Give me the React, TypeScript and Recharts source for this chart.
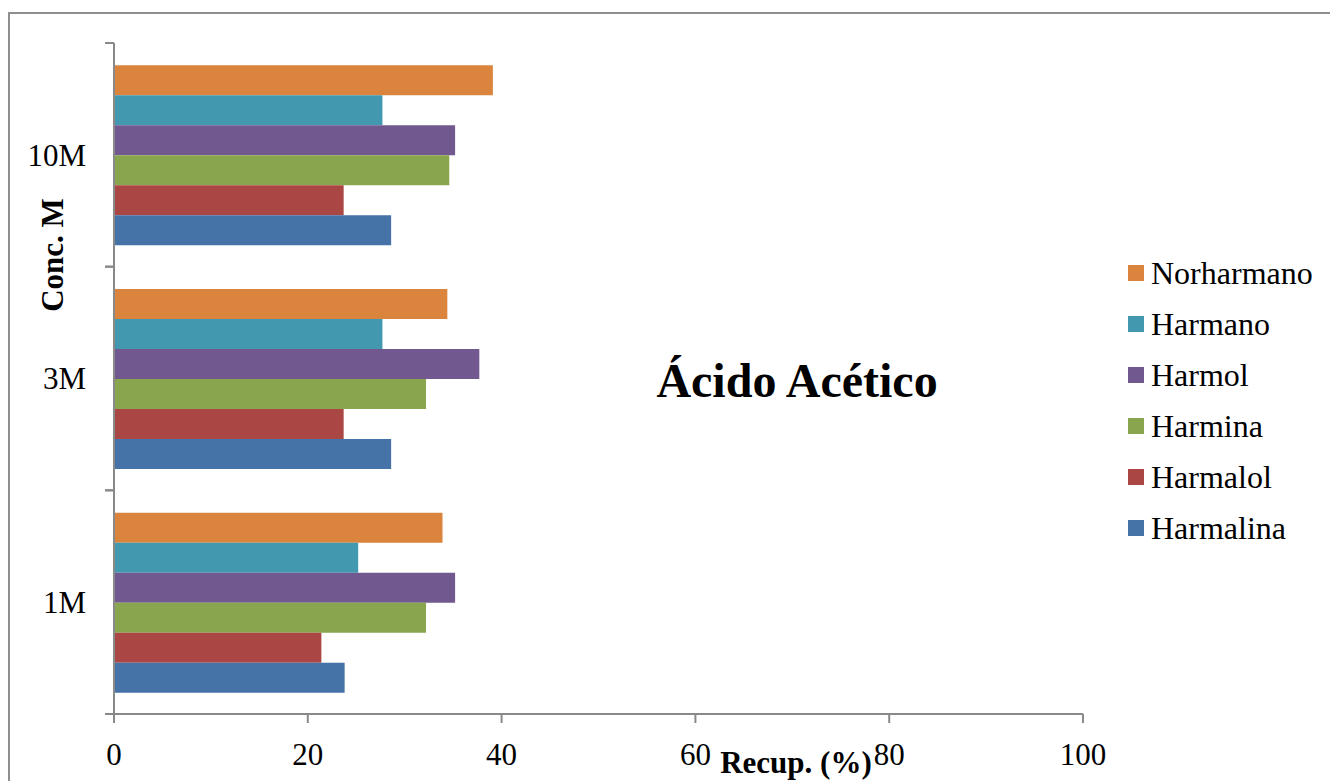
import React from 'react';
import { BarChart, Bar, XAxis, YAxis, Legend } from 'recharts';

const categories = ['10M', '3M', '1M'];
const seriesNames = ['Norharmano', 'Harmano', 'Harmol', 'Harmina', 'Harmalol', 'Harmalina'];
const norharmano = [39.1, 34.4, 33.9];
const harmano = [27.7, 27.7, 25.2];
const harmol = [35.2, 37.7, 35.2];
const harmina = [34.6, 32.2, 32.2];
const harmalol = [23.7, 23.7, 21.4];
const harmalina = [28.6, 28.6, 23.8];
const xTicks = [0, 20, 40, 60, 80, 100];
const colors = ['#DB843D', '#4198AF', '#71588F', '#89A54E', '#AA4643', '#4572A7'];

const seriesValues = [norharmano, harmano, harmol, harmina, harmalol, harmalina];

const data = categories.map((c, i) => {
  const row: Record<string, string | number> = { conc: c };
  seriesNames.forEach((n, k) => {
    row[n] = seriesValues[k][i];
  });
  return row;
});

const FONT = "'Liberation Serif', 'Times New Roman', serif";
const AXIS = '#898989';

const YTick = (props: any) => {
  const { x, y, payload } = props;
  const half = payload && payload.offset ? payload.offset : 0;
  const ax = x + 19;
  return (
    <g>
      <line x1={ax} x2={ax + 9} y1={y - half} y2={y - half} stroke={AXIS} strokeWidth={2} />
      <line x1={ax} x2={ax + 9} y1={y + half} y2={y + half} stroke={AXIS} strokeWidth={2} />
      <text x={x} y={y} dy="0.35em" textAnchor="end" fontSize={31} fill="#000" fontFamily={FONT}>
        {payload.value}
      </text>
    </g>
  );
};

const LegendContent = () => (
  <div style={{ width: 200, fontFamily: FONT, fontSize: 32, color: '#000' }}>
    {seriesNames.map((n, k) => (
      <div key={n} style={{ height: 51, display: 'flex', alignItems: 'center' }}>
        <span style={{ display: 'inline-block', width: 16, height: 16, background: colors[k], marginRight: 7 }} />
        <span style={{ lineHeight: '32px' }}>{n}</span>
      </div>
    ))}
  </div>
);

export default function App() {
  return (
    <div style={{ position: 'absolute', left: 0, top: 0, width: 1330, height: 781, overflow: 'hidden', background: '#fff' }}>
      <div
        style={{
          position: 'absolute',
          left: 8,
          top: 12,
          width: 1400,
          height: 900,
          border: '2px solid #8e8e8e',
          boxSizing: 'border-box',
        }}
      />
      <div style={{ position: 'absolute', left: 0, top: 0 }}>
        <BarChart
          width={1330}
          height={781}
          data={data}
          layout="vertical"
          margin={{ top: 43, right: 47, bottom: 0, left: 0 }}
          barCategoryGap="10%"
          barGap={0}
          style={{ fontFamily: FONT }}
        >
          <XAxis
            type="number"
            domain={[0, 100]}
            ticks={xTicks}
            interval={0}
            height={67}
            tickSize={9}
            tickMargin={20}
            axisLine={{ stroke: AXIS, strokeWidth: 2 }}
            tickLine={{ stroke: AXIS, strokeWidth: 2 }}
            tick={{ fontSize: 31, fill: '#000', fontFamily: FONT }}
          />
          <YAxis
            type="category"
            dataKey="conc"
            width={114}
            tickSize={9}
            tickMargin={19}
            axisLine={{ stroke: AXIS, strokeWidth: 2 }}
            tickLine={{ stroke: 'none' }}
            tick={<YTick />}
          />
          <Legend
            layout="vertical"
            align="right"
            verticalAlign="middle"
            content={<LegendContent />}
            wrapperStyle={{ left: 1128, top: 247, width: 200 }}
          />
          {seriesNames.map((n, k) => (
            <Bar key={n} dataKey={n} fill={colors[k]} isAnimationActive={false} />
          ))}
          <text x={797} y={397} textAnchor="middle" fontSize={48} fontWeight="bold" fontFamily={FONT} fill="#000">
            Ácido Acético
          </text>
          <text x={796} y={773} textAnchor="middle" fontSize={31} fontWeight="bold" fontFamily={FONT} fill="#000">
            Recup. (%)
          </text>
          <text
            x={0}
            y={0}
            transform="translate(63, 255) rotate(-90)"
            textAnchor="middle"
            fontSize={31}
            fontWeight="bold"
            fontFamily={FONT}
            fill="#000"
          >
            Conc. M
          </text>
        </BarChart>
      </div>
    </div>
  );
}
